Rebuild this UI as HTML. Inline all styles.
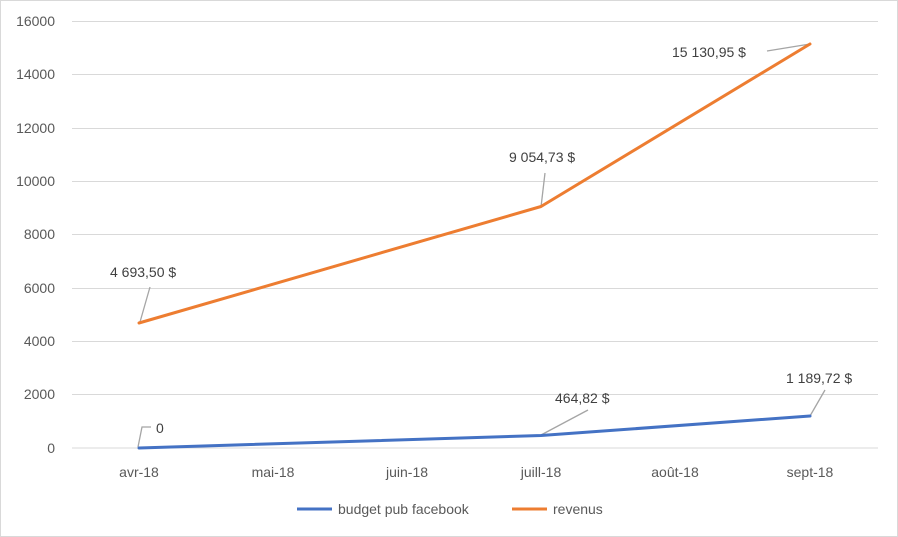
<!DOCTYPE html>
<html><head><style>
body{margin:0;background:#fff;}
svg{display:block;font-family:"Liberation Sans",sans-serif;}
</style></head><body>
<svg width="898" height="537" viewBox="0 0 898 537">
<rect x="0.5" y="0.5" width="897" height="536" fill="#fff" stroke="#d9d9d9"/>
<g stroke="#d9d9d9" stroke-width="1">
<line x1="72" x2="878" y1="21.5" y2="21.5"/>
<line x1="72" x2="878" y1="74.5" y2="74.5"/>
<line x1="72" x2="878" y1="128.5" y2="128.5"/>
<line x1="72" x2="878" y1="181.5" y2="181.5"/>
<line x1="72" x2="878" y1="234.5" y2="234.5"/>
<line x1="72" x2="878" y1="288.5" y2="288.5"/>
<line x1="72" x2="878" y1="341.5" y2="341.5"/>
<line x1="72" x2="878" y1="394.5" y2="394.5"/>
<line x1="72" x2="878" y1="448" y2="448"/>
</g>
<g font-size="14" fill="#595959" text-anchor="end">
<text x="55" y="26">16000</text>
<text x="55" y="79">14000</text>
<text x="55" y="133">12000</text>
<text x="55" y="186">10000</text>
<text x="55" y="239">8000</text>
<text x="55" y="293">6000</text>
<text x="55" y="346">4000</text>
<text x="55" y="399">2000</text>
<text x="55" y="453">0</text>
</g>
<g font-size="14" fill="#595959" text-anchor="middle">
<text x="139" y="477">avr-18</text>
<text x="273" y="477">mai-18</text>
<text x="407" y="477">juin-18</text>
<text x="541" y="477">juill-18</text>
<text x="675" y="477">août-18</text>
<text x="810" y="477">sept-18</text>
</g>
<g stroke="#a5a5a5" stroke-width="1.3" fill="none">
<polyline points="138,447 142,427 151,427"/>
<polyline points="140,322 150,287"/>
<polyline points="541,207 545,173"/>
<polyline points="767,51 810,44"/>
<polyline points="541,435 588,410"/>
<polyline points="810,416 825,390"/>
</g>
<polyline points="139,323 541,206.5 810,44" fill="none" stroke="#ed7d31" stroke-width="3" stroke-linejoin="round" stroke-linecap="round"/>
<polyline points="139,448 541,435.5 810,416" fill="none" stroke="#4472c4" stroke-width="3" stroke-linejoin="round" stroke-linecap="round"/>
<g font-size="14" fill="#404040" style="white-space:pre">
<text x="156" y="433">0</text>
<text x="110" y="277">4 693,50  $</text>
<text x="509" y="162">9 054,73  $</text>
<text x="672" y="57">15 130,95  $</text>
<text x="555" y="403">464,82  $</text>
<text x="786" y="383">1 189,72 $</text>
</g>
<line x1="297" x2="332" y1="509" y2="509" stroke="#4472c4" stroke-width="3"/>
<text x="338" y="514" font-size="14" fill="#595959">budget pub facebook</text>
<line x1="512" x2="547" y1="509" y2="509" stroke="#ed7d31" stroke-width="3"/>
<text x="553" y="514" font-size="14" fill="#595959">revenus</text>
</svg>
</body></html>
